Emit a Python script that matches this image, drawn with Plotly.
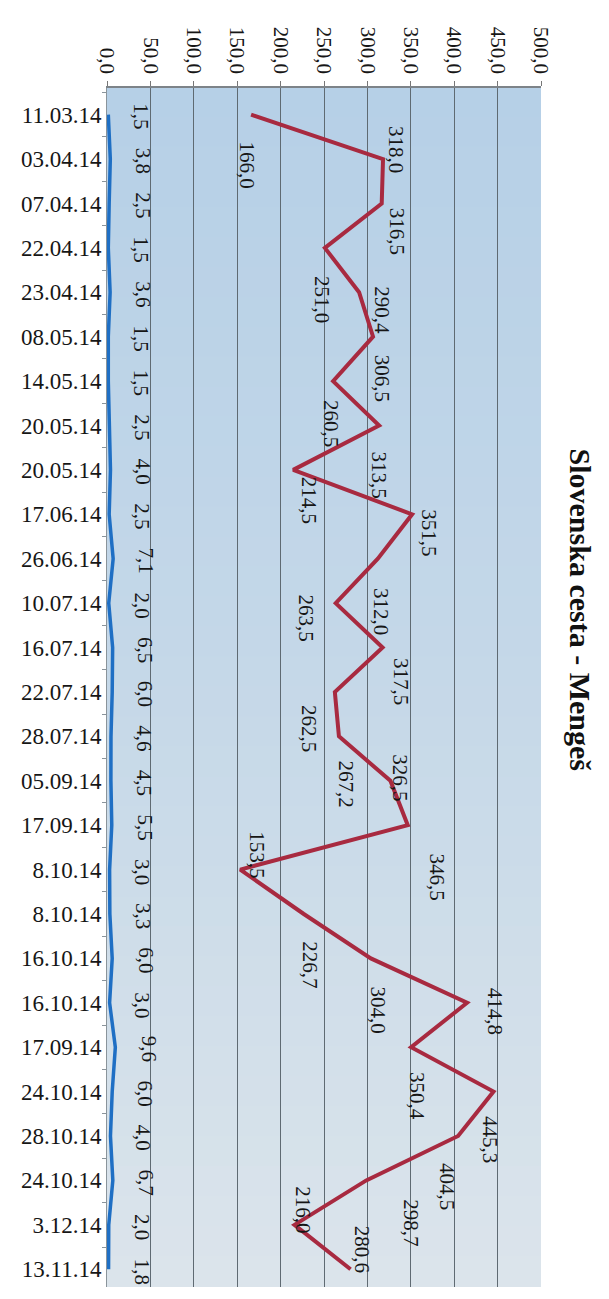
import plotly.graph_objects as go

# ---------------- data ----------------
dates = ["11.03.14", "03.04.14", "07.04.14", "22.04.14", "23.04.14", "08.05.14",
         "14.05.14", "20.05.14", "20.05.14", "17.06.14", "26.06.14", "10.07.14",
         "16.07.14", "22.07.14", "28.07.14", "05.09.14", "17.09.14", "8.10.14",
         "8.10.14", "16.10.14", "16.10.14", "17.09.14", "24.10.14", "28.10.14",
         "24.10.14", "3.12.14", "13.11.14"]

red_values = [166.0, 318.0, 316.5, 251.0, 290.4, 306.5, 260.5, 313.5, 214.5,
              351.5, 312.0, 263.5, 317.5, 262.5, 267.2, 326.5, 346.5, 153.5,
              226.7, 304.0, 414.8, 350.4, 445.3, 404.5, 298.7, 216.0, 280.6]

blue_values = [1.5, 3.8, 2.5, 1.5, 3.6, 1.5, 1.5, 2.5, 4.0, 2.5, 7.1, 2.0, 6.5,
               6.0, 4.6, 4.5, 5.5, 3.0, 3.3, 6.0, 3.0, 9.6, 6.0, 4.0, 6.7, 2.0, 1.8]

value_ticks = [0, 50, 100, 150, 200, 250, 300, 350, 400, 450, 500]

title_text = "Slovenska cesta - Mengeš"

# label placement (pixel shifts: right, down) for the red data labels
red_label_shift = [(-4, 50), (13, -10), (15, 28), (-3, 52), (23, 18), (9, 41),
                   (-2, 42), (0, 49), (16, 30), (17, 18), (3, 53), (-30, 15),
                   (19, 34), (-26, 37), (7, 48), (10, -3), (29, 52), (17, -15),
                   (6, 51), (7, 52), (28, 8), (6, 49), (-3, 48), (-11, 50),
                   (44, 42), (9, -15), (11, -20)]

# ---------------- styling ----------------
SERIF = "Liberation Serif, Times New Roman, serif"
RED = "#a82a40"
BLUE = "#1f6fc4"
TXT = "#161616"

idx = list(range(len(dates)))


def fmt(v):
    return f"{v:.1f}".replace(".", ",")


fig = go.Figure()

fig.add_trace(go.Scatter(x=blue_values, y=idx, mode="lines",
                         line=dict(color=BLUE, width=3.5), hoverinfo="skip",
                         showlegend=False))
fig.add_trace(go.Scatter(x=red_values, y=idx, mode="lines",
                         line=dict(color=RED, width=4), hoverinfo="skip",
                         showlegend=False))

annotations = []
for i, v in enumerate(red_values):
    dx, dy = red_label_shift[i]
    annotations.append(dict(x=v, y=i, xref="x", yref="y", text=fmt(v),
                            showarrow=False, textangle=90, xshift=dx, yshift=-dy,
                            font=dict(family=SERIF, size=21, color=TXT)))
for i, v in enumerate(blue_values):
    annotations.append(dict(x=v, y=i, xref="x", yref="y", text=fmt(v),
                            showarrow=False, textangle=90, xshift=33, yshift=-2,
                            font=dict(family=SERIF, size=21, color=TXT)))

annotations.append(dict(x=1.09, y=0.565, xref="paper", yref="paper",
                        xanchor="center", yanchor="middle",
                        text=f"<b>{title_text}</b>", showarrow=False,
                        textangle=90,
                        font=dict(family=SERIF, size=30, color="#111111")))

# background gradient of the plot area (blue at top, paler below)
top_c = (182, 208, 231)
mid_c = (197, 216, 232)
bot_c = (219, 228, 235)
shapes = []
n_bands = 40
for k in range(n_bands):
    t = k / (n_bands - 1)
    if t < 0.5:
        a, b, u = top_c, mid_c, t / 0.5
    else:
        a, b, u = mid_c, bot_c, (t - 0.5) / 0.5
    c = tuple(round(a[j] + (b[j] - a[j]) * u) for j in range(3))
    y1 = 1 - k / n_bands
    y0 = 1 - (k + 1) / n_bands
    shapes.append(dict(type="rect", xref="x domain", yref="y domain",
                       x0=0, x1=1, y0=y0, y1=y1 + 0.001, layer="below",
                       line=dict(width=0), fillcolor="rgb(%d,%d,%d)" % c))

fig.update_layout(
    width=609, height=1299,
    margin=dict(l=107, r=68, t=88, b=12),
    paper_bgcolor="white",
    plot_bgcolor="white",
    separators=",.",
    annotations=annotations,
    shapes=shapes,
    showlegend=False,
    xaxis=dict(side="top", range=[0, 500], tickmode="array",
               tickvals=value_ticks, tickformat=".1f", tickangle=90,
               ticks="outside", ticklen=5, tickcolor="#777777",
               showgrid=True, gridcolor="#5f6a72", gridwidth=1,
               showline=True, linecolor="#7d8388", linewidth=1.5,
               zeroline=False,
               tickfont=dict(family=SERIF, size=21, color=TXT)),
    yaxis=dict(range=[26.4, -0.6], tickmode="array", tickvals=idx,
               ticktext=dates, ticks="", showgrid=False, zeroline=False,
               showline=True, linecolor="#8a949b", linewidth=1,
               minor=dict(tick0=-0.5, dtick=1, ticks="outside", ticklen=4,
                          tickcolor="#8a949b", showgrid=False),
               tickfont=dict(family=SERIF, size=23, color=TXT)),
)

fig.write_html("out.html", config={"displayModeBar": False},
               post_script="document.body.style.margin='0';")
